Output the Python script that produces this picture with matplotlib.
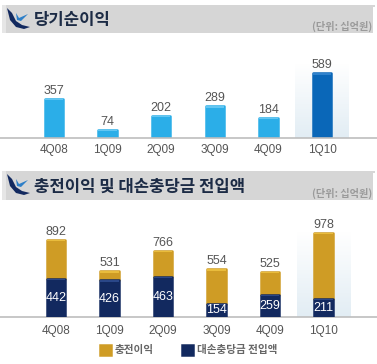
import numpy as np
import matplotlib
matplotlib.use("Agg")
import matplotlib.pyplot as plt
from matplotlib.patches import Polygon, Rectangle
from matplotlib.colors import LinearSegmentedColormap

plt.rcParams['font.family'] = ['Liberation Sans', 'Noto Sans CJK KR', 'DejaVu Sans']

quarters = ['4Q08', '1Q09', '2Q09', '3Q09', '4Q09', '1Q10']
net_income = [357, 74, 202, 289, 184, 589]
provisions = [442, 426, 463, 154, 259, 211]
ppop_total = [892, 531, 766, 554, 525, 978]
ppop_part = [t - p for t, p in zip(ppop_total, provisions)]

title_top = '당기순이익'
title_bottom = '충전이익 및 대손충당금 전입액'
unit_label = '(단위: 십억원)'
legend_labels = ['충전이익', '대손충당금 전입액']

W, H = 377, 364
LIGHT, DEEP, GOLD, NAVY = '#2BAEE8', '#0A67B8', '#CF9C25', '#12295F'
TXT = '#555555'

fig = plt.figure(figsize=(W / 100, H / 100), dpi=100, facecolor='white')

bg = fig.add_axes([0, 0, 1, 1], zorder=0)
bg.set_xlim(0, W); bg.set_ylim(H, 0); bg.axis('off')

def header(y0, y1, title, dy):
    bg.add_patch(Rectangle((2, y0), 373, y1 - y0, fc='#D6D6D6', ec='none'))
    bg.add_patch(Rectangle((2, y0), 4, y1 - y0, fc='#E6E6E6', ec='none'))
    bg.add_patch(Rectangle((373, y0 + 2), 4, y1 - y0 - 2, fc='#FFFFFF', ec='none'))
    ox, oy = 7, y0 + 3
    bg.add_patch(Polygon([(ox, oy), (ox + 5, oy + 5), (ox + 9, oy + 13), (ox + 15, oy + 17),
                          (ox + 23, oy + 19), (ox + 17, oy + 21), (ox + 9, oy + 19),
                          (ox + 3, oy + 12)], fc='#12295F', ec='none'))
    bg.add_patch(Polygon([(ox + 9, oy + 5), (ox + 12, oy + 10), (ox + 21, oy + 6),
                          (ox + 14, oy + 13), (ox + 10, oy + 12)], fc='#2D7FC8', ec='none'))
    bg.text(34, (y0 + y1) / 2 + dy, title, fontsize=12, fontweight='bold', color='#1C2B45',
            family='Noto Sans CJK KR', va='center', ha='left')
    bg.text(372, y1 - 6.5, unit_label, fontsize=7.3, fontweight='bold', color='#9A9A9A',
            family='Noto Sans CJK KR', va='center', ha='right')

header(5, 33, title_top, 1.5)
header(171, 200, title_bottom, 1.5)

glow = LinearSegmentedColormap.from_list('glow', ['#FFFFFF', '#E2EDF4'])

def make_axes(y_top, y_base, px_per_unit):
    ax = fig.add_axes([0, 1 - y_base / H, 1, (y_base - y_top) / H], zorder=1)
    ax.patch.set_alpha(0)
    ax.set_ylim(0, (y_base - y_top) / px_per_unit)
    for s in ('top', 'left', 'right'):
        ax.spines[s].set_visible(False)
    ax.spines['bottom'].set_color('#BDBDBD')
    ax.spines['bottom'].set_linewidth(1.2)
    ax.set_yticks([])
    ax.set_xticks(range(len(quarters)), quarters)
    ax.tick_params(axis='x', length=0, labelsize=8.5, labelcolor=TXT, pad=4)
    return ax

def set_x(ax, c0, step):
    ax.set_xlim(-c0 / step, (W - c0) / step)

def highlight(ax, top):
    i = len(quarters) - 1
    ax.imshow(np.linspace(0, 1, 64).reshape(-1, 1), cmap=glow, aspect='auto',
              extent=(i - 0.5, i + 0.5, 0, top), zorder=0, vmin=0, vmax=1)

def sheen(ax, tops, width, thick, color, z):
    ax.bar(range(len(tops)), [thick] * len(tops), bottom=[t - thick for t in tops],
           width=width, color=color, linewidth=0, zorder=z)

BAR_W = 18.5
LW = 1.8
ax1 = make_axes(58, 138, 0.11)
set_x(ax1, 54, 53.6)
highlight(ax1, 680)
colors = [LIGHT] * 5 + [DEEP]
ax1.bar(range(6), net_income, width=BAR_W / 53.6, color=colors, edgecolor=colors,
        linewidth=LW, joinstyle='round', zorder=2)
sheen(ax1, net_income, BAR_W / 53.6, 12, ['#62C6F2'] * 5 + ['#2F82CC'], 2.5)
for i, v in enumerate(net_income):
    ax1.annotate(str(v), (i, v), xytext=(0, 1.5), textcoords='offset points', ha='center',
                 va='bottom', fontsize=9, color=TXT)
set_x(ax1, 54, 53.6)
ax1.set_ylim(0, 80 / 0.11)

ax2 = make_axes(222, 317, 0.086)
set_x(ax2, 56, 53.5)
highlight(ax2, 1000)
b1 = ax2.bar(range(6), provisions, width=BAR_W / 53.5, color=NAVY, edgecolor=NAVY,
             linewidth=LW, joinstyle='round', zorder=3, label=legend_labels[1])
b2 = ax2.bar(range(6), ppop_part, bottom=provisions, width=BAR_W / 53.5, color=GOLD,
             edgecolor=GOLD, linewidth=LW, joinstyle='round', zorder=2, label=legend_labels[0])
sheen(ax2, ppop_total, BAR_W / 53.5, 14, '#E9BC3C', 2.5)
sheen(ax2, provisions, BAR_W / 53.5, 14, '#2A4788', 3.5)
for i, v in enumerate(ppop_total):
    ax2.annotate(str(v), (i, v), xytext=(0, 1.5), textcoords='offset points', ha='center',
                 va='bottom', fontsize=9, color=TXT)
for i, v in enumerate(provisions):
    ax2.text(i, v / 2, str(v), ha='center', va='center', fontsize=9, color='white', zorder=4)
set_x(ax2, 56, 53.5)
ax2.set_ylim(0, 95 / 0.086)
ax2.tick_params(axis='x', pad=6)

leg = fig.legend([b2, b1], legend_labels, ncol=2, frameon=False, loc='center',
                 bbox_to_anchor=(188.5 / W, 1 - 350 / H), handlelength=1.05,
                 handleheight=1.05, handletextpad=0.35, columnspacing=2.7, labelcolor='#666666',
                 prop={'family': 'Noto Sans CJK KR', 'weight': 'bold', 'size': 7.6})

fig.savefig('out.png', dpi=100, facecolor='white')
